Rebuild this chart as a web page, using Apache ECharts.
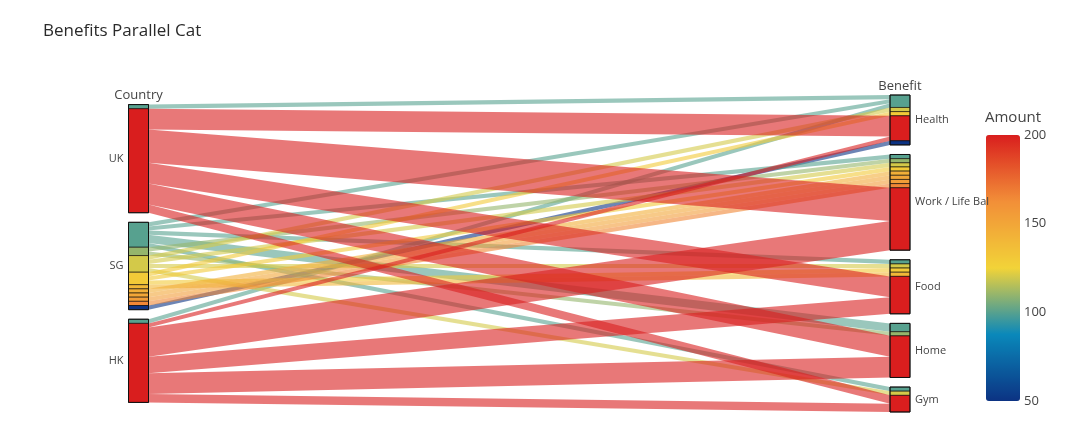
<!DOCTYPE html>
<html>
<head>
<meta charset="utf-8">
<script src="https://cdn.jsdelivr.net/npm/echarts@6/dist/echarts.min.js"></script>
<style>
html,body{margin:0;padding:0;background:#fff;}
#chart{width:1080px;height:441px;}
</style>
</head>
<body>
<div id="chart"></div>
<script>
// ---- data ----
const dimensionNames = ['Country', 'Benefit'];
const countries = ['UK', 'SG', 'HK'];
const benefits = ['Health', 'Work / Life Bal', 'Food', 'Home', 'Gym'];
// one entry per bundled path (country, benefit, amount, number of records)
const recCountry = ['UK','SG','SG','SG','SG','SG','HK', 'SG','SG', 'SG','SG','SG','SG', 'SG','SG','SG', 'SG','SG','SG','SG','SG',
                    'UK','UK','UK','UK','UK','HK','HK','HK','HK','HK', 'SG'];
const recBenefit = ['Health','Health','Work / Life Bal','Food','Home','Gym','Health', 'Work / Life Bal','Home',
                    'Health','Work / Life Bal','Food','Gym', 'Health','Work / Life Bal','Food',
                    'Food','Work / Life Bal','Work / Life Bal','Work / Life Bal','Work / Life Bal',
                    'Health','Work / Life Bal','Food','Home','Gym','Health','Work / Life Bal','Food','Home','Gym', 'Health'];
const recAmount  = [100,100,100,100,100,100,100, 110,110, 120,120,120,120, 130,130,130, 140,145,150,155,165,
                    200,200,200,200,200,200,200,200,200,200, 50];
const recCount   = [1,1,1,1,2,1,1, 1,1, 1,1,1,1, 1,1,1, 1,1,1,1,1,
                    5,8,5,5,2,1,7,4,5,2, 1];
const colorTicks = [50, 100, 150, 200];
const portland = ['#0c3383', '#0a88ba', '#f2d338', '#f28f38', '#d91e1e'];

// ---- layout (in record units) ----
const GAP = 2.3;       // gap between categories, in record units
const BW = 20 / 781.5; // bar width as a fraction of the x span
const colorOrder = [];
recAmount.forEach(a => { if (colorOrder.indexOf(a) < 0) colorOrder.push(a); });
const N = recCount.length;
const total = recCount.reduce((s, v) => s + v, 0);
const leftSpan = total + GAP * (countries.length - 1);
const rightSpan = total + GAP * (benefits.length - 1);
const yMax = Math.max(leftSpan, rightSpan);

const ribbonY = recCount.map(() => [0, 0, 0, 0]);
const segData = [];
const catData = [];
const dimData = [];

function stack(side, cats, catArr, otherArr, otherCats, offset) {
  let cur = offset;
  dimData.push([side, offset]);
  cats.forEach((cat, ci) => {
    const start = cur;
    colorOrder.forEach(a => {
      const idx = [];
      for (let i = 0; i < N; i++) if (catArr[i] === cat && recAmount[i] === a) idx.push(i);
      if (!idx.length) return;
      idx.sort((p, q) => otherCats.indexOf(otherArr[p]) - otherCats.indexOf(otherArr[q]));
      const s0 = cur;
      idx.forEach(i => {
        ribbonY[i][side * 2] = cur;
        cur += recCount[i];
        ribbonY[i][side * 2 + 1] = cur;
      });
      segData.push([a, side, s0, cur]);
    });
    catData.push([side, start, cur, ci]);
    cur += GAP;
  });
}
stack(0, countries, recCountry, recBenefit, benefits, (yMax - leftSpan) / 2);
stack(1, benefits, recBenefit, recCountry, countries, (yMax - rightSpan) / 2);
// ribbons drawn from low to high amount (high values on top)
const ribbonData = recAmount.map((a, i) => [a].concat(ribbonY[i]))
  .sort((p, q) => p[0] - q[0]);

const FONT = '"Open Sans", "DejaVu Sans", sans-serif';
const chart = echarts.init(document.getElementById('chart'), null, {renderer: 'canvas'});
chart.setOption({
  animation: false,
  backgroundColor: '#fff',
  title: [
    {text: 'Benefits Parallel Cat', left: 43, top: 23, padding: 0,
     textStyle: {fontFamily: FONT, fontSize: 17, fontWeight: 'normal', color: '#2a2a2a'}},
    {text: 'Amount', left: 985, top: 110, padding: 0,
     textStyle: {fontFamily: FONT, fontSize: 15, fontWeight: 'normal', color: '#444'}}
  ],
  grid: [
    {left: 128.5, top: 95, width: 781.5, height: 317},
    {left: 986, top: 135, width: 34, height: 266}
  ],
  xAxis: [
    {gridIndex: 0, type: 'value', min: 0, max: 1, show: false},
    {gridIndex: 1, type: 'value', min: 0, max: 1, show: false}
  ],
  yAxis: [
    {gridIndex: 0, type: 'value', min: 0, max: yMax, inverse: true, show: false},
    {gridIndex: 1, type: 'value', min: 50, max: 200, interval: 50, position: 'right',
     axisLine: {show: false}, axisTick: {show: false}, splitLine: {show: false},
     axisLabel: {margin: 4, fontFamily: FONT, fontSize: 13, color: '#444',
       formatter: v => colorTicks.indexOf(v) >= 0 ? String(v) : ''}}
  ],
  visualMap: {
    type: 'continuous', min: 50, max: 200, dimension: 0, seriesIndex: [0, 1],
    calculable: false, orient: 'vertical', left: 986, top: 135, padding: 0,
    itemWidth: 34, itemHeight: 266, inRange: {color: portland}, hoverLink: false
  },
  series: [
    {
      type: 'custom', coordinateSystem: 'cartesian2d', silent: true, z: 2,
      data: ribbonData,
      renderItem: (params, api) => {
        const a = api.coord([BW, api.value(1)]);
        const b = api.coord([1 - BW, api.value(3)]);
        const c = api.coord([1 - BW, api.value(4)]);
        const d = api.coord([BW, api.value(2)]);
        return {type: 'polygon', shape: {points: [a, b, c, d]},
                style: {fill: api.visual('color'), opacity: 0.6, stroke: null}};
      }
    },
    {
      type: 'custom', coordinateSystem: 'cartesian2d', silent: true, z: 3,
      data: segData,
      renderItem: (params, api) => {
        const side = api.value(1);
        const x0 = side ? 1 - BW : 0, x1 = side ? 1 : BW;
        const p0 = api.coord([x0, api.value(2)]);
        const p1 = api.coord([x1, api.value(3)]);
        return {type: 'rect', shape: {x: p0[0], y: p0[1], width: p1[0] - p0[0], height: p1[1] - p0[1]},
                style: {fill: api.visual('color'), stroke: 'rgba(0,0,0,0.75)', lineWidth: 0.8}};
      }
    },
    {
      type: 'custom', coordinateSystem: 'cartesian2d', silent: true, z: 4,
      data: catData,
      renderItem: (params, api) => {
        const side = api.value(0);
        const x0 = side ? 1 - BW : 0, x1 = side ? 1 : BW;
        const p0 = api.coord([x0, api.value(1)]);
        const p1 = api.coord([x1, api.value(2)]);
        const name = side ? benefits[api.value(3)] : countries[api.value(3)];
        return {type: 'group', children: [
          {type: 'rect', shape: {x: p0[0], y: p0[1], width: p1[0] - p0[0], height: p1[1] - p0[1]},
           style: {fill: null, stroke: '#111', lineWidth: 1}},
          {type: 'text', style: {text: name, x: side ? p1[0] + 5 : p0[0] - 5, y: (p0[1] + p1[1]) / 2,
            align: side ? 'left' : 'right', verticalAlign: 'middle', fill: '#444',
            font: '11px ' + FONT}}
        ]};
      }
    },
    {
      type: 'custom', coordinateSystem: 'cartesian2d', silent: true, z: 4,
      data: dimData,
      renderItem: (params, api) => {
        const side = api.value(0);
        const p = api.coord([side ? 1 - BW / 2 : BW / 2, api.value(1)]);
        return {type: 'text', style: {text: dimensionNames[side], x: p[0], y: p[1] - 9,
          align: 'center', verticalAlign: 'middle', fill: '#444', font: '13px ' + FONT}};
      }
    }
  ]
});
</script>
</body>
</html>
